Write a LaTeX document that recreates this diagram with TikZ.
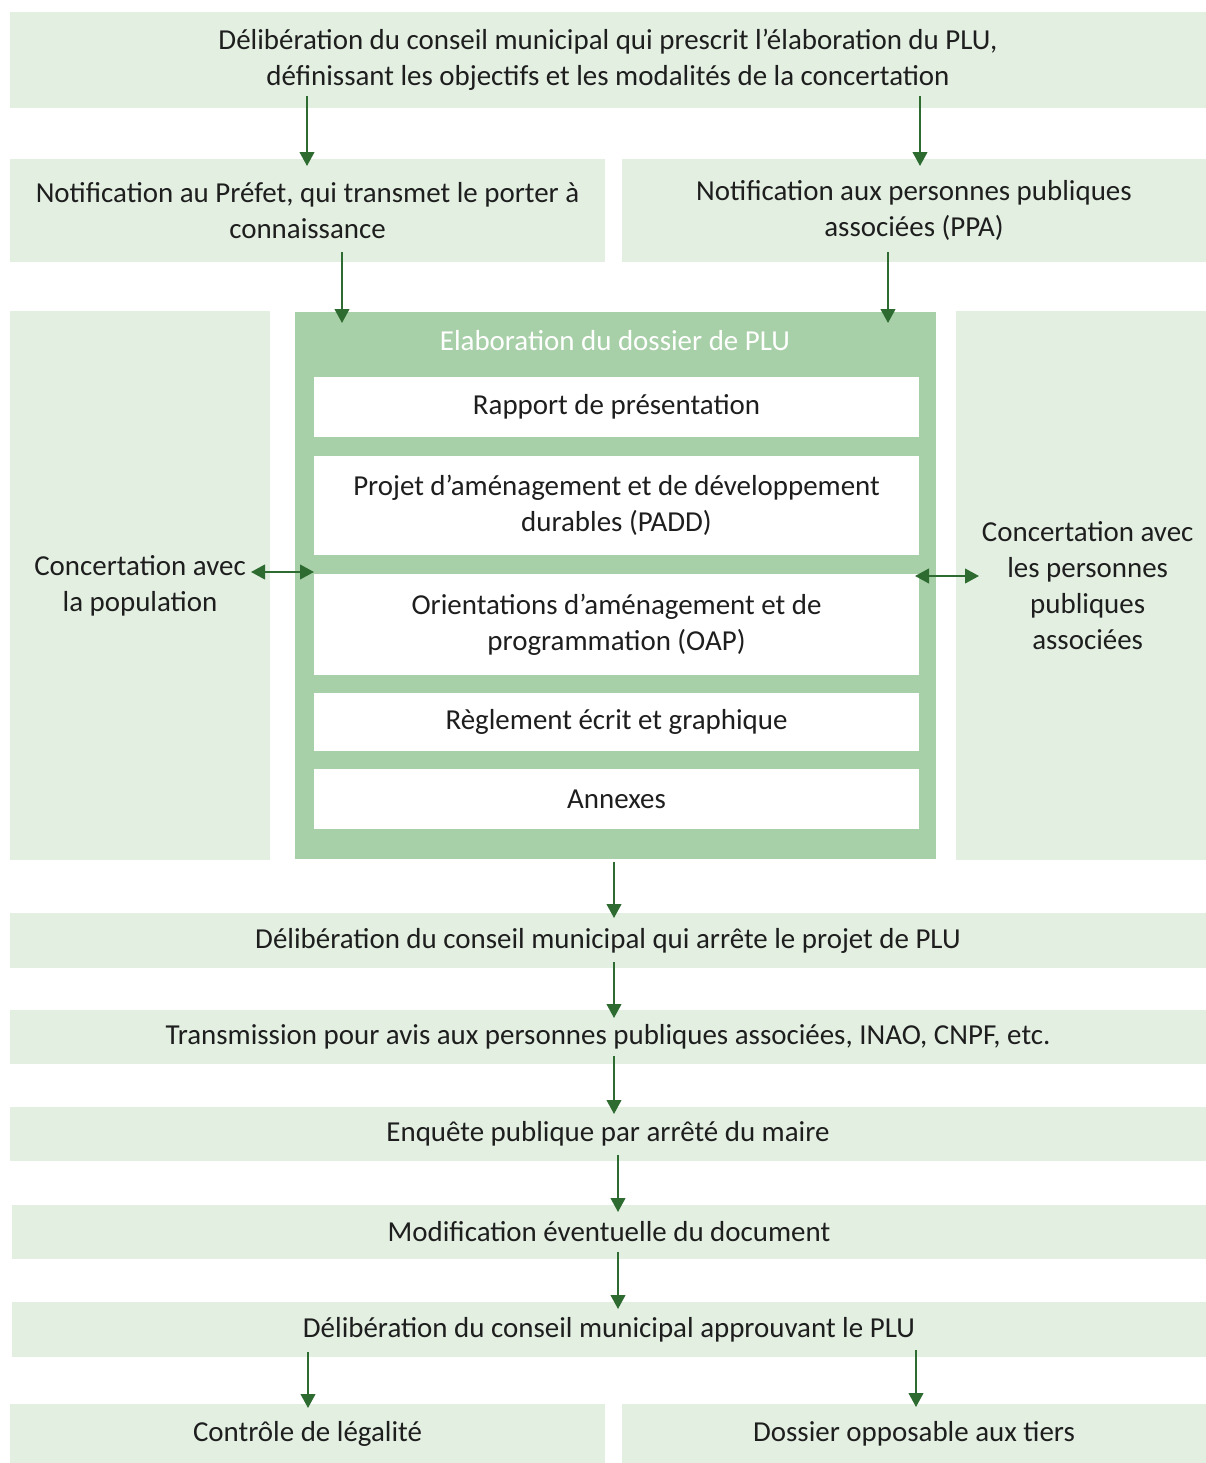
\documentclass[tikz,border=0pt]{standalone}
\usepackage{fontspec}
\setmainfont{Carlito}
\usetikzlibrary{arrows.meta}
\definecolor{lg}{HTML}{E2EFE1}
\definecolor{fg}{HTML}{A8D0A8}
\definecolor{ag}{HTML}{2E6B30}
\definecolor{tx}{HTML}{1E1E1E}
\begin{document}
\begin{tikzpicture}[x=0.75pt,y=-0.75pt,
  base/.style={inner sep=0pt, outer sep=0pt, align=center, font=\fontsize{21.7}{27}\selectfont},
  bx/.style args={#1/#2}{minimum width=#1*0.75pt, minimum height=#2*0.75pt},
  lbox/.style={base, fill=lg, text=tx},
  wbox/.style={base, fill=white, text=tx},
  frm/.style={base, fill=fg},
  ttl/.style={base, text=white},
  tip/.tip={Triangle[length=10.5pt,width=11pt]},
  arr/.style={draw=ag, line width=1.5pt, -tip},
  darr/.style={draw=ag, line width=1.5pt, tip-tip}]
\useasboundingbox (0,0) rectangle (1206,1463);
\fill[white] (0,0) rectangle (1206,1463);

\node[lbox, bx=1196/96] (top) at (608,60) {Délibération du conseil municipal qui prescrit l’élaboration du PLU,\\définissant les objectifs et les modalités de la concertation};
\node[lbox, bx=595/103] (pref) at (307.5,210.5) {Notification au Préfet, qui transmet le porter à\\connaissance};
\node[lbox, bx=584/103] (ppa) at (914,210.5) {Notification aux personnes publiques\\associées (PPA)};
\node[lbox, bx=260/549] (lc) at (140,585.5) {Concertation avec\\la population};
\node[lbox, bx=250/549] (rc) at (1081,585.5) {\hspace*{10pt}Concertation avec\\\hspace*{10pt}les personnes\\\hspace*{10pt}publiques\\\hspace*{10pt}associées};
\node[frm, bx=641/547] (frame) at (615.5,585.5) {};
\node[ttl] (title) at (615,341) {Elaboration du dossier de PLU};
\node[wbox, bx=605/60] (rap) at (616.5,407) {Rapport de présentation};
\node[wbox, bx=605/99] (padd) at (616.5,505.5) {Projet d’aménagement et de développement\\durables (PADD)};
\node[wbox, bx=605/101] (oap) at (616.5,624.5) {Orientations d’aménagement et de\\programmation (OAP)};
\node[wbox, bx=605/58] (reg) at (616.5,722) {Règlement écrit et graphique};
\node[wbox, bx=605/60] (ann) at (616.5,799) {Annexes};
\node[lbox, bx=1196/55] (arrete) at (608,940.5) {Délibération du conseil municipal qui arrête le projet de PLU};
\node[lbox, bx=1196/54] (trans) at (608,1037) {Transmission pour avis aux personnes publiques associées, INAO, CNPF, etc.};
\node[lbox, bx=1196/54] (enq) at (608,1134) {Enquête publique par arrêté du maire};
\node[lbox, bx=1194/54] (modif) at (609,1232) {Modification éventuelle du document};
\node[lbox, bx=1194/55] (appr) at (609,1329.5) {Délibération du conseil municipal approuvant le PLU};
\node[lbox, bx=595/59] (ctrl) at (307.5,1433.5) {Contrôle de légalité};
\node[lbox, bx=584/59] (opp) at (914,1433.5) {Dossier opposable aux tiers};

% arrow end points
\coordinate (t1) at (307,96);   \coordinate (p1) at (307,166);
\coordinate (t2) at (920,96);   \coordinate (p2) at (920,166);
\coordinate (p3) at (342,252);  \coordinate (f3) at (342,323);
\coordinate (p4) at (888,252);  \coordinate (f4) at (888,323);
\coordinate (l5) at (251,572);  \coordinate (f5) at (314,572);
\coordinate (f6) at (915,576);  \coordinate (r6) at (979,576);
\coordinate (f7) at (614,862);  \coordinate (a7) at (614,918);
\coordinate (a8) at (614,962);  \coordinate (t8) at (614,1018);
\coordinate (t9) at (614,1056); \coordinate (e9) at (614,1114);
\coordinate (e10) at (618,1155); \coordinate (m10) at (618,1212);
\coordinate (m11) at (618,1252); \coordinate (a11) at (618,1309);
\coordinate (a12) at (308,1352); \coordinate (c12) at (308,1408);
\coordinate (a13) at (916,1350); \coordinate (o13) at (916,1407);

\draw[arr] (t1) -- (p1);
\draw[arr] (t2) -- (p2);
\draw[arr] (p3) -- (f3);
\draw[arr] (p4) -- (f4);
\draw[darr] (l5) -- (f5);
\draw[darr] (f6) -- (r6);
\draw[arr] (f7) -- (a7);
\draw[arr] (a8) -- (t8);
\draw[arr] (t9) -- (e9);
\draw[arr] (e10) -- (m10);
\draw[arr] (m11) -- (a11);
\draw[arr] (a12) -- (c12);
\draw[arr] (a13) -- (o13);
\end{tikzpicture}
\end{document}
